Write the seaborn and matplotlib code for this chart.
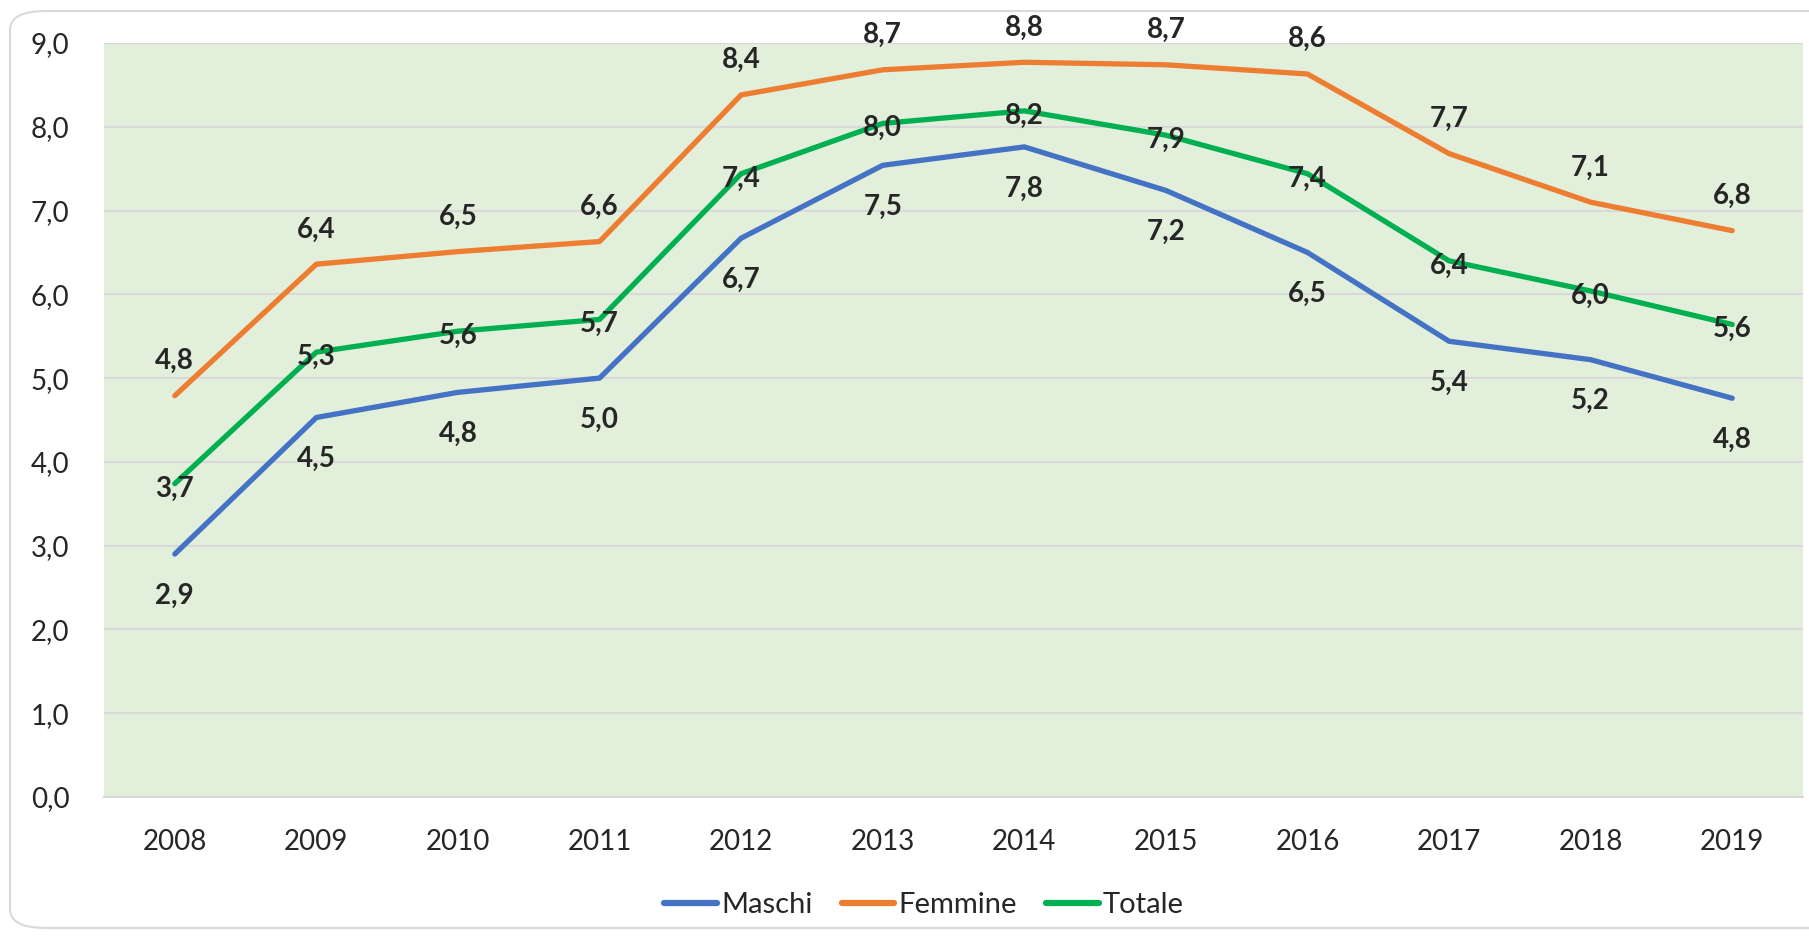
import numpy as np
import pandas as pd
import seaborn as sns
import matplotlib.pyplot as plt
from matplotlib.patches import FancyBboxPatch

# Dati
anni = ['2008', '2009', '2010', '2011', '2012', '2013', '2014', '2015', '2016', '2017', '2018', '2019']
maschi = [2.90, 4.53, 4.83, 5.00, 6.67, 7.54, 7.76, 7.24, 6.50, 5.44, 5.22, 4.76]
femmine = [4.79, 6.36, 6.51, 6.63, 8.38, 8.68, 8.77, 8.74, 8.63, 7.68, 7.10, 6.76]
totale = [3.74, 5.31, 5.56, 5.70, 7.44, 8.04, 8.19, 7.90, 7.44, 6.40, 6.04, 5.64]
serie = ['Maschi', 'Femmine', 'Totale']
colori = ['#4472C4', '#ED7D31', '#00B050']

df = pd.DataFrame({
    'x': list(range(len(anni))) * 3,
    'valore': maschi + femmine + totale,
    'serie': [s for s in serie for _ in anni],
})

sns.set_theme(style='white')
plt.rcParams['font.family'] = ['Lato', 'DejaVu Sans']

fig = plt.figure(figsize=(18.09, 9.38), dpi=100)
ax = fig.add_axes([104 / 1809, 1 - 797 / 938, (1803 - 104) / 1809, (797 - 43) / 938])

# Bordo arrotondato del grafico
bordo = FancyBboxPatch((10 / 1809, 10 / 938), 1.2, 1 - 21 / 938,
                       boxstyle='round,pad=0,rounding_size=0.02',
                       transform=fig.transFigure, facecolor='none',
                       edgecolor='#D9D9D9', linewidth=1.5, zorder=0)
fig.patches.append(bordo)

ax.set_facecolor('#E2EFDA')
sns.lineplot(data=df, x='x', y='valore', hue='serie', palette=colori,
             linewidth=3.8, ax=ax, legend=True, zorder=3)

# Etichette dati
def etichetta(v):
    return f'{v:.1f}'.replace('.', ',')

for i, v in enumerate(femmine):
    ax.annotate(etichetta(v), (i, v), xytext=(0, 25), textcoords='offset points',
                ha='center', va='center', fontsize=20, fontweight='bold', zorder=5)
for i, v in enumerate(maschi):
    ax.annotate(etichetta(v), (i, v), xytext=(0, -30), textcoords='offset points',
                ha='center', va='center', fontsize=20, fontweight='bold', zorder=5)
for i, v in enumerate(totale):
    ax.annotate(etichetta(v), (i, v), xytext=(0, -3.5), textcoords='offset points',
                ha='center', va='center', fontsize=20, fontweight='bold', zorder=5)

ax.set_xlim(-0.5, len(anni) - 0.5)
ax.set_ylim(0, 9)
ax.set_xticks(range(len(anni)))
ax.set_xticklabels(anni)
ax.set_yticks(np.arange(0, 10, 1))
ax.set_yticklabels([etichetta(t) for t in np.arange(0, 10, 1)])
ax.tick_params(axis='x', length=0, pad=23, labelsize=20)
ax.tick_params(axis='y', length=0, pad=25, labelsize=20)
ax.grid(axis='y', color='#D9D9D9', linewidth=1.5, zorder=1)
ax.set_axisbelow(True)
for lato in ['top', 'right', 'left']:
    ax.spines[lato].set_visible(False)
ax.spines['bottom'].set_color('#D9D9D9')
ax.spines['bottom'].set_linewidth(1.5)
ax.set_xlabel('')
ax.set_ylabel('')

handles, labels = ax.get_legend_handles_labels()
ax.get_legend().remove()
for h in handles:
    h.set_solid_capstyle('round')
    h.set_linewidth(4.5)
fig.legend(handles, labels, loc='center', bbox_to_anchor=(924 / 1809, 1 - 905 / 938),
           ncol=3, frameon=False, fontsize=21, handlelength=1.8,
           handletextpad=0.15, columnspacing=1.0)

plt.savefig('out.png', dpi=100)
